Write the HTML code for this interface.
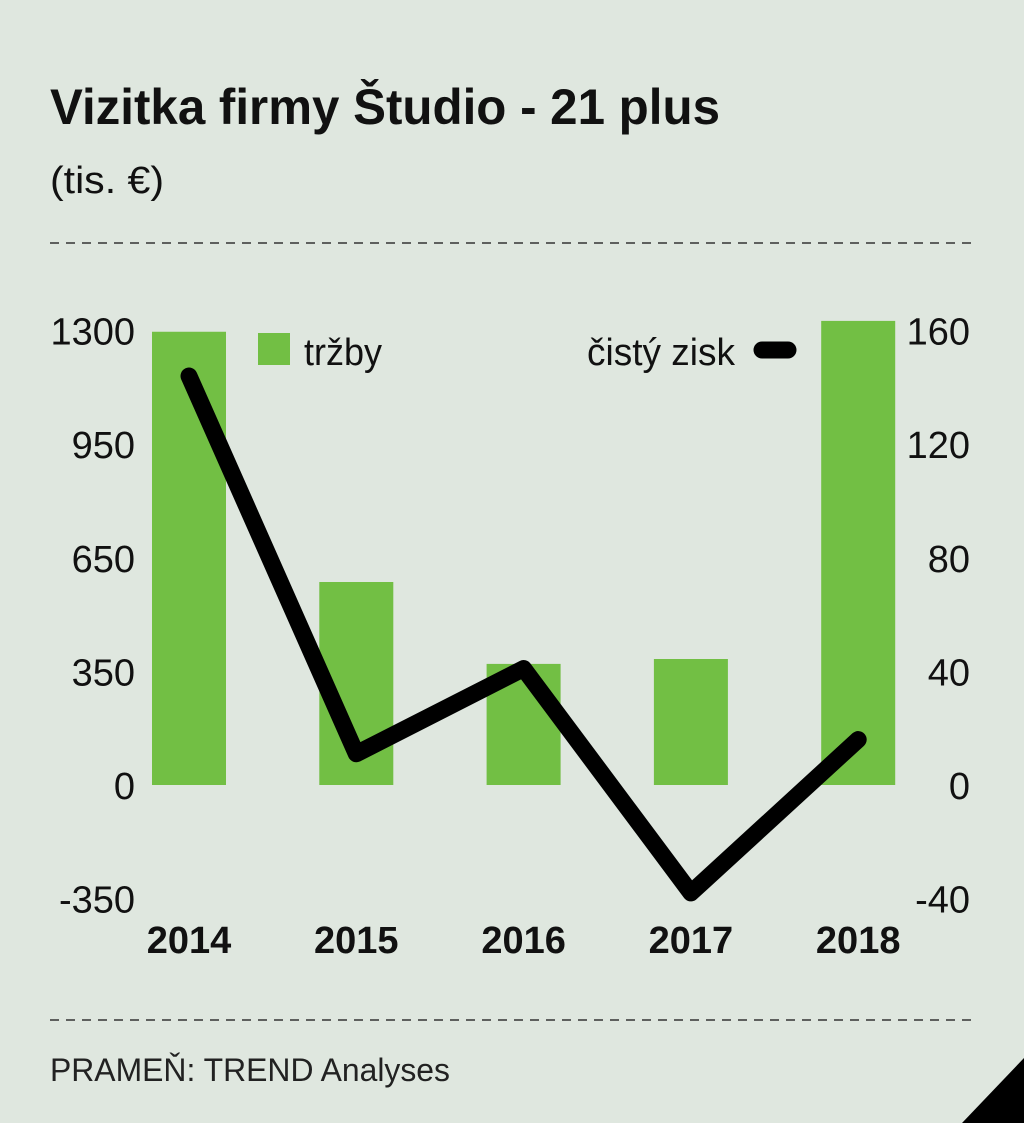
<!DOCTYPE html>
<html><head><meta charset="utf-8">
<style>
html,body{margin:0;padding:0;background:#dfe7df;}
svg{display:block;font-family:"Liberation Sans Narrow","Liberation Sans",sans-serif;}
</style></head>
<body>
<svg id="chart" width="1024" height="1123" viewBox="0 0 1024 1123" xmlns="http://www.w3.org/2000/svg">
<rect width="1024" height="1123" fill="#dfe7df"/>
<text x="50" y="124" font-size="50" font-weight="bold" fill="#111" textLength="670" lengthAdjust="spacingAndGlyphs">Vizitka firmy Študio - 21 plus</text>
<text x="50" y="193" font-size="38" fill="#111" textLength="114" lengthAdjust="spacingAndGlyphs">(tis. €)</text>
<line x1="50" y1="243" x2="975" y2="243" stroke="#333" stroke-width="1.5" stroke-dasharray="9,7"/>
<line x1="50" y1="1020" x2="975" y2="1020" stroke="#333" stroke-width="1.5" stroke-dasharray="9,7"/>
<g id="plot"></g>
<rect x="258" y="333" width="32" height="32" fill="#72bf44"/>
<text x="304" y="365" font-size="38" fill="#111" textLength="78" lengthAdjust="spacingAndGlyphs">tržby</text>
<text x="587" y="365" font-size="38" fill="#111" textLength="148" lengthAdjust="spacingAndGlyphs">čistý zisk</text>
<line x1="762" y1="350" x2="788" y2="350" stroke="#000" stroke-width="17" stroke-linecap="round"/>
<text x="50" y="1081" font-size="32" fill="#222" textLength="400" lengthAdjust="spacingAndGlyphs">PRAMEŇ: TREND Analyses</text>
<polygon points="1024,1058 1024,1123 962,1123" fill="#000"/>
</svg>
<script>
const years = ["2014","2015","2016","2017","2018"];
const revenue = [1295, 580, 346, 360, 1326];
const profit = [144, 11, 41, -38, 16];
const leftTickLabels = ["1300","950","650","350","0","-350"];
const rightTicks = [160,120,80,40,0,-40];

const NS="http://www.w3.org/2000/svg";
const g=document.getElementById('plot');
const xPos=i=>189+i*167.3;
const yLeft=v=>785-v*0.35;
const yRight=v=>785-v*2.84;
function mk(t,a){const e=document.createElementNS(NS,t);for(const k in a)e.setAttribute(k,a[k]);g.appendChild(e);return e;}
years.forEach((y,i)=>{
  const top=yLeft(Math.max(revenue[i],0)), bot=yLeft(Math.min(revenue[i],0));
  const b=mk('rect',{x:xPos(i)-37,y:top,width:74,height:bot-top,fill:'#72bf44'});
  
  
  const t=mk('text',{x:xPos(i),y:953,'font-size':38,'font-weight':'bold','text-anchor':'middle',fill:'#111'});
  t.textContent=y;
  
  
});
rightTicks.forEach((v,i)=>{
  const yy=yRight(v)+14;
  const l=mk('text',{x:135,y:yy,'font-size':38,'text-anchor':'end',fill:'#111'});
  l.textContent=leftTickLabels[i];
  
  
  const r=mk('text',{x:970,y:yy,'font-size':38,'text-anchor':'end',fill:'#111'});
  r.textContent=String(v);
  
  
});
const pts=profit.map((v,i)=>xPos(i)+','+yRight(v)).join(' ');
const line=mk('polyline',{points:pts,fill:'none',stroke:'#000','stroke-width':17,'stroke-linecap':'round','stroke-linejoin':'round'});


</script>
</body></html>
